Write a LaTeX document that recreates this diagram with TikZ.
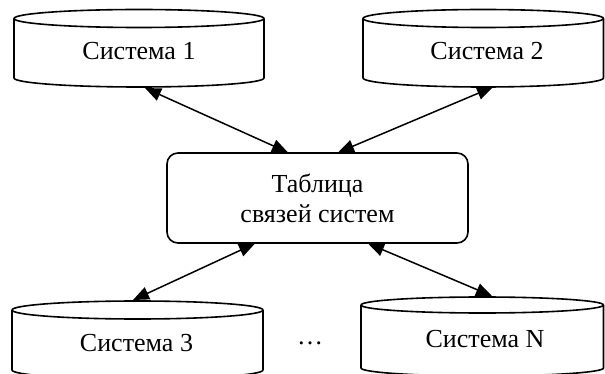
\documentclass[tikz,border=0pt]{standalone}
\usepackage{fontspec}
\setmainfont{Liberation Serif}
\usetikzlibrary{arrows.meta}
\tikzset{
  shapeline/.style={line width=1.6pt, line join=round},
  conn/.style={line width=1.5pt, {Triangle[length=16pt,width=13pt]}-{Triangle[length=16pt,width=13pt]}},
  lbl/.style={font=\fontsize{26}{30}\selectfont, anchor=base, inner sep=0pt},
}
% cylinder: #1 left x, #2 right x, #3 top ellipse centre y, #4 side bottom y, #5 y radius
\newcommand\mycyl[5]{%
  \pgfmathsetmacro\cxr{(#2-#1)/2}%
  \pgfmathsetmacro\cxc{(#2+#1)/2}%
  \draw[shapeline] (\cxc,#3) ellipse [x radius=\cxr pt, y radius=#5pt];
  \draw[shapeline] (#1,#3) -- (#1,#4) arc[start angle=180, end angle=360, x radius=\cxr pt, y radius=#5pt] -- (#2,#3);
}
\begin{document}
\begin{tikzpicture}[x=1pt,y=-1pt]
\clip (0,0) rectangle (605,374);
\fill[white] (0,0) rectangle (605,374);
% cylinders
\mycyl{14}{264}{18.5}{78}{9}
\mycyl{363}{603.5}{18.5}{78}{9}
\mycyl{12}{263}{310}{370}{9}
\mycyl{361}{603.5}{305}{368}{8}
\node[lbl] (s1) at (139,60) {Система 1};
\node[lbl] (s2) at (487,60) {Система 2};
\node[lbl] (s3) at (136.5,351) {Система 3};
\node[lbl] (sN) at (485,347) {Система N};
\node[lbl] (dots) at (310,344) {…};
% central table
\draw[shapeline, rounded corners=11pt] (167,153) rectangle (468,243);
\node[lbl, align=center, anchor=center] (tab) at (317.5,198) {Таблица\\связей систем};
% connector end points
\coordinate (s1b) at (145,88);
\coordinate (s2b) at (493,87);
\coordinate (s3t) at (133,300);
\coordinate (sNt) at (492,296);
\coordinate (tab1) at (288,152.5);
\coordinate (tab2) at (338,152.5);
\coordinate (tab3) at (255,243.5);
\coordinate (tab4) at (368,243.5);
\draw[conn] (s1b) -- (tab1);
\draw[conn] (s2b) -- (tab2);
\draw[conn] (s3t) -- (tab3);
\draw[conn] (sNt) -- (tab4);
\end{tikzpicture}
\end{document}
